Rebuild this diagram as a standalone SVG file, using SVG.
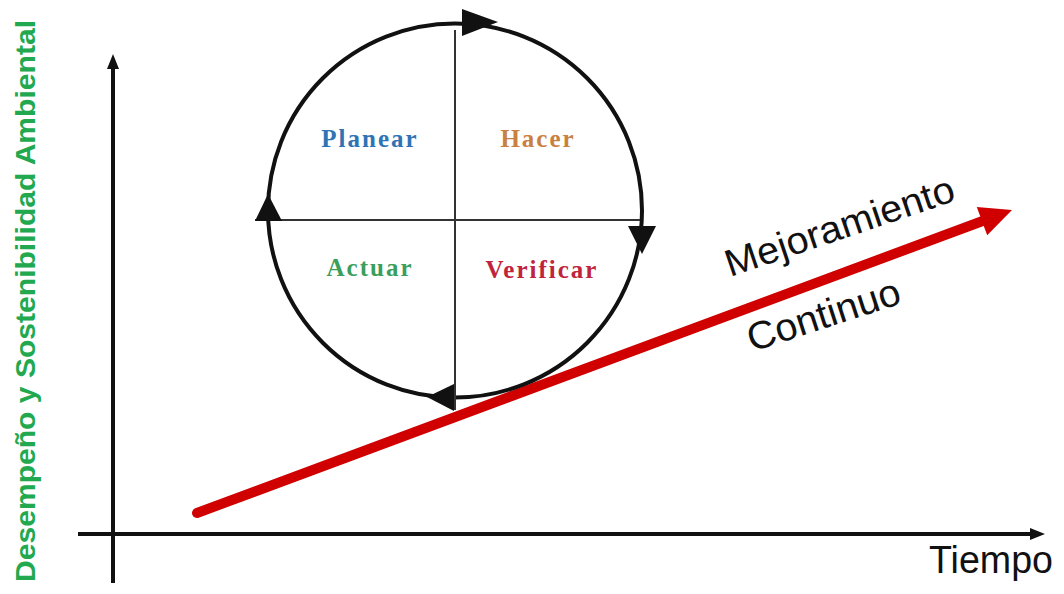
<svg xmlns="http://www.w3.org/2000/svg" width="1064" height="594" viewBox="0 0 1064 594">
  <style>
    .axis { stroke: #111; stroke-width: 4; fill: none; }
    .head { fill: #111; }
    .ring { stroke: #111; stroke-width: 4; fill: none; }
    .cross { stroke: #333; stroke-width: 2; }
    .q { font-family: "Liberation Serif", "Times New Roman", serif; font-weight: bold; font-size: 25px; letter-spacing: 2px; text-anchor: middle; }
    .lbl { font-family: "Liberation Sans", Arial, sans-serif; fill: #111; }
  </style>
  <rect width="1064" height="594" fill="#fff"/>

  <g id="connectors">
    <!-- axes -->
    <line class="axis" x1="113" y1="583" x2="113" y2="66"/>
    <polygon class="head" points="113,54 107,69 119,69"/>
    <line class="axis" x1="78" y1="534" x2="1032" y2="534"/>
    <polygon class="head" points="1045,534 1030,528 1030,540"/>
    <!-- trend arrow -->
    <line x1="197" y1="513" x2="984" y2="220.5" stroke="#D00000" stroke-width="10" stroke-linecap="round"/>
    <polygon points="1012,210 976.8,207.1 987.2,235.3" fill="#D00000"/>
  </g>

  <g id="cycle">
    <circle class="ring" cx="455" cy="210.5" r="187"/>
    <line class="cross" x1="455" y1="30" x2="455" y2="410"/>
    <line class="cross" x1="255" y1="220" x2="640" y2="220"/>
    <polygon class="head" points="498,22 462,9 462,36"/>
    <polygon class="head" points="642,254 628,226 656,226"/>
    <polygon class="head" points="427,397 454,384 454,411"/>
    <polygon class="head" points="268,194 255,221 282,221"/>
  </g>

  <g id="planear"><text class="q" x="370" y="147" fill="#2E74B5">Planear</text></g>
  <g id="hacer"><text class="q" x="538" y="147" fill="#C98040">Hacer</text></g>
  <g id="actuar"><text class="q" x="370" y="276" fill="#3A9E5C">Actuar</text></g>
  <g id="verificar"><text class="q" x="542" y="278" fill="#C0243C">Verificar</text></g>

  <g id="mejoramiento">
    <text class="lbl" font-size="38" transform="translate(730,277) rotate(-18.7)" textLength="240" lengthAdjust="spacingAndGlyphs">Mejoramiento</text>
  </g>
  <g id="continuo">
    <text class="lbl" font-size="39" transform="translate(752,352) rotate(-18)" textLength="159" lengthAdjust="spacingAndGlyphs">Continuo</text>
  </g>
  <g id="tiempo">
    <text class="lbl" font-size="38" x="929" y="573" textLength="124" lengthAdjust="spacingAndGlyphs">Tiempo</text>
  </g>
  <g id="y-label">
    <text font-family="'Liberation Sans', Arial, sans-serif" font-weight="bold" font-size="28" fill="#22A94F" transform="translate(35,582) rotate(-90)" textLength="562" lengthAdjust="spacingAndGlyphs">Desempeño y Sostenibilidad Ambiental</text>
  </g>
</svg>
